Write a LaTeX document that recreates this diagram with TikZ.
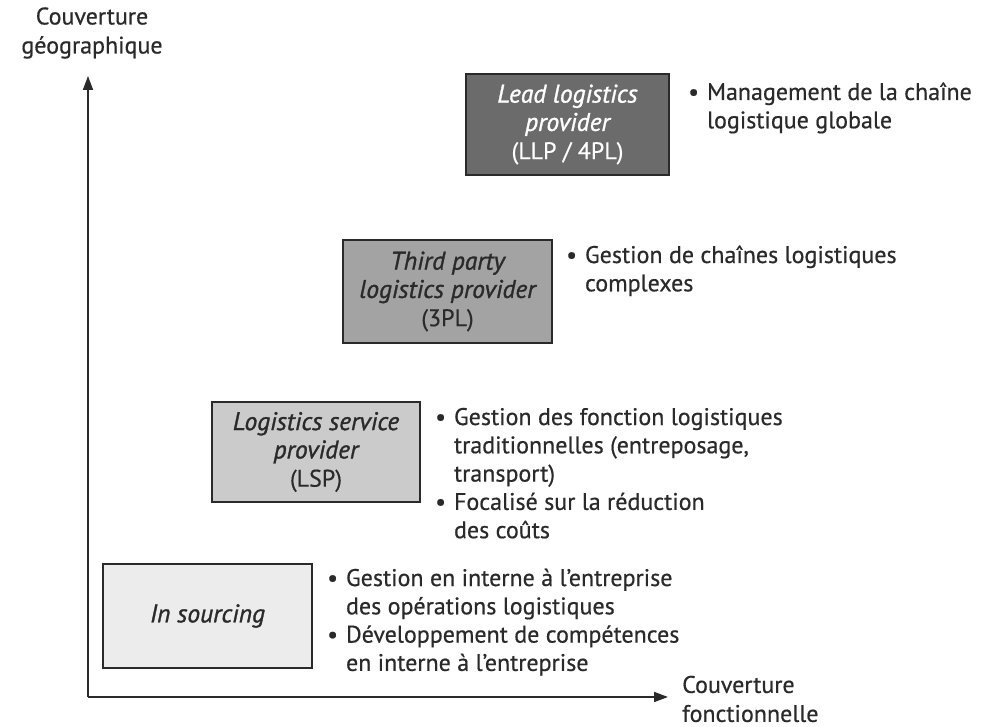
\documentclass[tikz,border=0pt]{standalone}
\usepackage{fontspec}
\setmainfont{PT Sans}[UprightFeatures={FakeBold=0.5}, ItalicFeatures={FakeBold=1.2}]
\usetikzlibrary{arrows.meta}
\definecolor{ink}{HTML}{2A2A2A}
\definecolor{fllp}{HTML}{6B6B6B}
\definecolor{ftpl}{HTML}{A3A3A3}
\definecolor{flsp}{HTML}{CBCBCB}
\definecolor{fins}{HTML}{ECECEC}
\tikzset{
  levelbox/.style={draw=ink, line width=1.6pt, align=center, inner sep=0pt,
    font=\fontsize{24}{28.3}\selectfont, text=ink},
  bullets/.style={anchor=base west, inner sep=0pt, font=\fontsize{24}{28.3}\selectfont, text=ink},
  axislabel/.style={inner sep=0pt, font=\fontsize{24}{29}\selectfont, text=ink},
  axis/.style={draw=ink, line width=1.6pt, -{Triangle[length=14pt,width=10pt]}}
}
\newcommand{\bl}[1]{\begin{tabular}[t]{@{}l@{\hspace{8pt}}l@{}}#1\end{tabular}}
\newcommand{\nm}[1]{{\fontsize{25.5}{28.3}\selectfont\itshape #1}}
\begin{document}
\begin{tikzpicture}[x=1pt,y=-1pt]
\useasboundingbox[fill=white] (0,0) rectangle (1002,727);
\coordinate (O) at (88,697);
\coordinate (Ytop) at (88,76);
\coordinate (Xend) at (668,697);
\draw[axis] (O) -- (Ytop);
\draw[axis] (O) -- (Xend);
\node[axislabel, align=center] (ylab) at (92,33) {Couverture\\géographique};
\node[axislabel, align=left, anchor=west] (xlab) at (682,699) {Couverture\\fonctionnelle};

\node[levelbox, fill=fllp, text=white, minimum width=203pt, minimum height=101pt] (llp) at (567.5,124.5)
  {\nm{Lead logistics}\\\nm{provider}\\(LLP / 4PL)};
\node[levelbox, fill=ftpl, minimum width=209pt, minimum height=103pt] (tpl) at (447.5,291.5)
  {\nm{Third party}\\\nm{logistics provider}\\(3PL)};
\node[levelbox, fill=flsp, minimum width=208pt, minimum height=100pt] (lsp) at (316,452)
  {\nm{Logistics service}\\\nm{provider}\\(LSP)};
\node[levelbox, fill=fins, minimum width=209pt, minimum height=104pt] (ins) at (207.5,616)
  {\nm{In sourcing}};

\node[bullets] (tllp) at (688,100) {\bl{\textbullet & Management de la chaîne\\ & logistique globale}};
\node[bullets] (ttpl) at (566,263) {\bl{\textbullet & Gestion de chaînes logistiques\\ & complexes}};
\node[bullets] (tlsp) at (435,425) {\bl{\textbullet & Gestion des fonction logistiques\\ & traditionnelles (entreposage,\\ & transport)\\\textbullet & Focalisé sur la réduction\\ & des coûts}};
\node[bullets] (tins) at (327,586) {\bl{\textbullet & Gestion en interne à l’entreprise\\ & des opérations logistiques\\\textbullet & Développement de compétences\\ & en interne à l’entreprise}};
\end{tikzpicture}
\end{document}
